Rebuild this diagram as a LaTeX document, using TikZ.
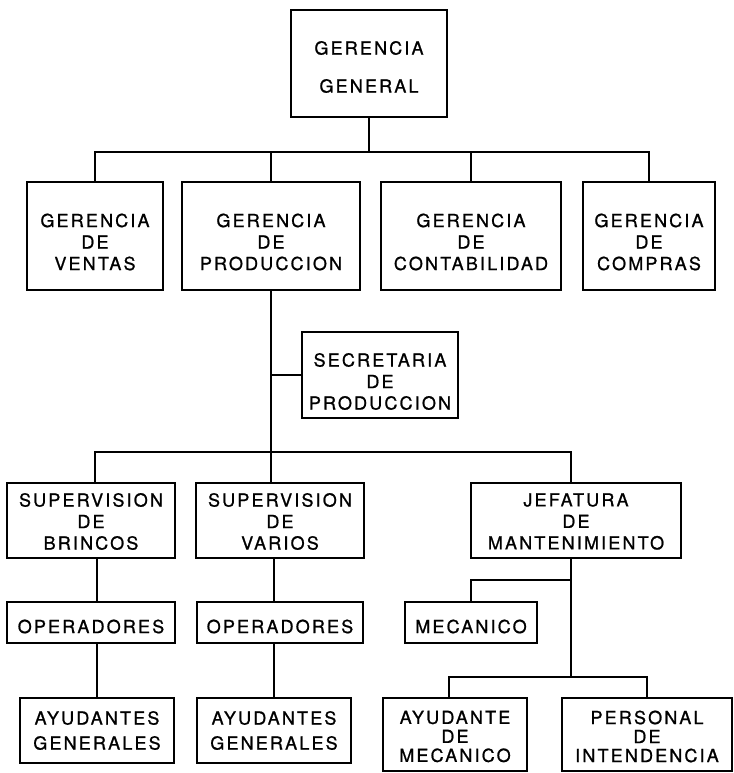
\documentclass[tikz,border=0pt]{standalone}
\usepackage{fontspec}
\setmainfont{TeX Gyre Heros}[LetterSpace=12, FakeBold=1]
\begin{document}
\begin{tikzpicture}[x=1pt,y=-1pt,
  unit/.style={draw=black, line width=2pt, rectangle, inner sep=0pt},
  caption/.style={inner sep=0pt, align=center, font=\fontsize{18}{21.5}\selectfont},
  link/.style={line width=2pt, line cap=rect}]
\useasboundingbox (0,0) rectangle (733,773);
\fill[white] (0,0) rectangle (733,773);

% top level
\node[unit, minimum width=156, minimum height=107] (gg) at (369,63.5) {};
\node[caption] (gg-t) at ([yshift=-3.5pt]gg.center) {GERENCIA\\[16.5pt]GENERAL};

% managers
\node[unit, minimum width=136, minimum height=108] (ventas) at (95,236) {};
\node[unit, minimum width=178, minimum height=108] (prod) at (271,236) {};
\node[unit, minimum width=180, minimum height=108] (cont) at (471,236) {};
\node[unit, minimum width=132, minimum height=108] (compras) at (649,236) {};
\node[caption] (ventas-t) at ([yshift=-6pt]ventas.center) {GERENCIA\\DE\\VENTAS};
\node[caption] (prod-t) at ([yshift=-6pt]prod.center) {GERENCIA\\DE\\PRODUCCION};
\node[caption] (cont-t) at ([yshift=-6pt]cont.center) {GERENCIA\\DE\\CONTABILIDAD};
\node[caption] (compras-t) at ([yshift=-6pt]compras.center) {GERENCIA\\DE\\COMPRAS};

% staff unit
\node[unit, minimum width=156, minimum height=86] (sec) at (380,375) {};
\node[caption] (sec-t) at ([yshift=-6.5pt]sec.center) {SECRETARIA\\DE\\PRODUCCION};

% production area
\node[unit, minimum width=168, minimum height=75] (brincos) at (91,520.5) {};
\node[unit, minimum width=168, minimum height=75] (varios) at (280,520.5) {};
\node[unit, minimum width=210, minimum height=75] (jef) at (576,520.5) {};
\node[caption] (brincos-t) at ([yshift=-1pt]brincos.center) {SUPERVISION\\DE\\BRINCOS};
\node[caption] (varios-t) at ([yshift=-1pt]varios.center) {SUPERVISION\\DE\\VARIOS};
\node[caption] (jef-t) at ([yshift=-1pt]jef.center) {JEFATURA\\DE\\MANTENIMIENTO};

\node[unit, minimum width=168, minimum height=41] (ops1) at (91,622.5) {};
\node[unit, minimum width=166, minimum height=41] (ops2) at (280,622.5) {};
\node[unit, minimum width=132, minimum height=41] (mec) at (471,622.5) {};
\node[caption] (ops1-t) at ([yshift=-4pt]ops1.center) {OPERADORES};
\node[caption] (ops2-t) at ([yshift=-4pt]ops2.center) {OPERADORES};
\node[caption] (mec-t) at ([yshift=-4pt]mec.center) {MECANICO};

\node[unit, minimum width=154, minimum height=65] (ayu1) at (97,730.5) {};
\node[unit, minimum width=154, minimum height=65] (ayu2) at (274,730.5) {};
\node[unit, minimum width=144, minimum height=73] (ayumec) at (455,734.5) {};
\node[unit, minimum width=170, minimum height=73] (pers) at (647,734.5) {};
\node[caption] (ayu1-t) at (ayu1.center) {AYUDANTES\\[3.5pt]GENERALES};
\node[caption] (ayu2-t) at (ayu2.center) {AYUDANTES\\[3.5pt]GENERALES};
\node[caption] (ayumec-t) at ([yshift=-2pt]ayumec.center) {AYUDANTE\\[-2.5pt]DE\\[-2.5pt]MECANICO};
\node[caption] (pers-t) at ([yshift=-2pt]pers.center) {PERSONAL\\[-2.5pt]DE\\[-2.5pt]INTENDENCIA};

% junction levels
\coordinate (barA) at (0,152);
\coordinate (barB) at (0,452);
\coordinate (barC) at (0,580);
\coordinate (barD) at (0,677);
\coordinate (jd) at (571,0);
\coordinate (bd) at (95,0);

% general management to managers
\draw[link] (gg.south) -- (gg.south |- barA);
\draw[link] (ventas.north) -- (ventas.north |- barA) -- (compras.north |- barA) -- (compras.north);
\draw[link] (prod.north) -- (prod.north |- barA);
\draw[link] (cont.north) -- (cont.north |- barA);

% production line and its staff unit
\draw[link] (prod.south) -- (prod.south |- varios.north);
\draw[link] (prod.south |- sec.west) -- (sec.west);

% supervisors
\draw[link] (brincos.north -| bd) -- (bd |- barB) -- (jd |- barB) -- (jef.north -| jd);

% supervision chains
\draw[link] (brincos.south -| ayu1.north) -- (ops1.north -| ayu1.north);
\draw[link] (ops1.south -| ayu1.north) -- (ayu1.north);
\draw[link] (varios.south -| ayu2.north) -- (ops2.north -| ayu2.north);
\draw[link] (ops2.south -| ayu2.north) -- (ayu2.north);

% maintenance
\draw[link] (jef.south -| jd) -- (jd |- barD);
\draw[link] (mec.north) -- (mec.north |- barC) -- (jd |- barC);
\draw[link] ([xshift=-6pt]ayumec.north) -- ([xshift=-6pt]ayumec.north |- barD) -- (pers.north |- barD) -- (pers.north);
\end{tikzpicture}
\end{document}
